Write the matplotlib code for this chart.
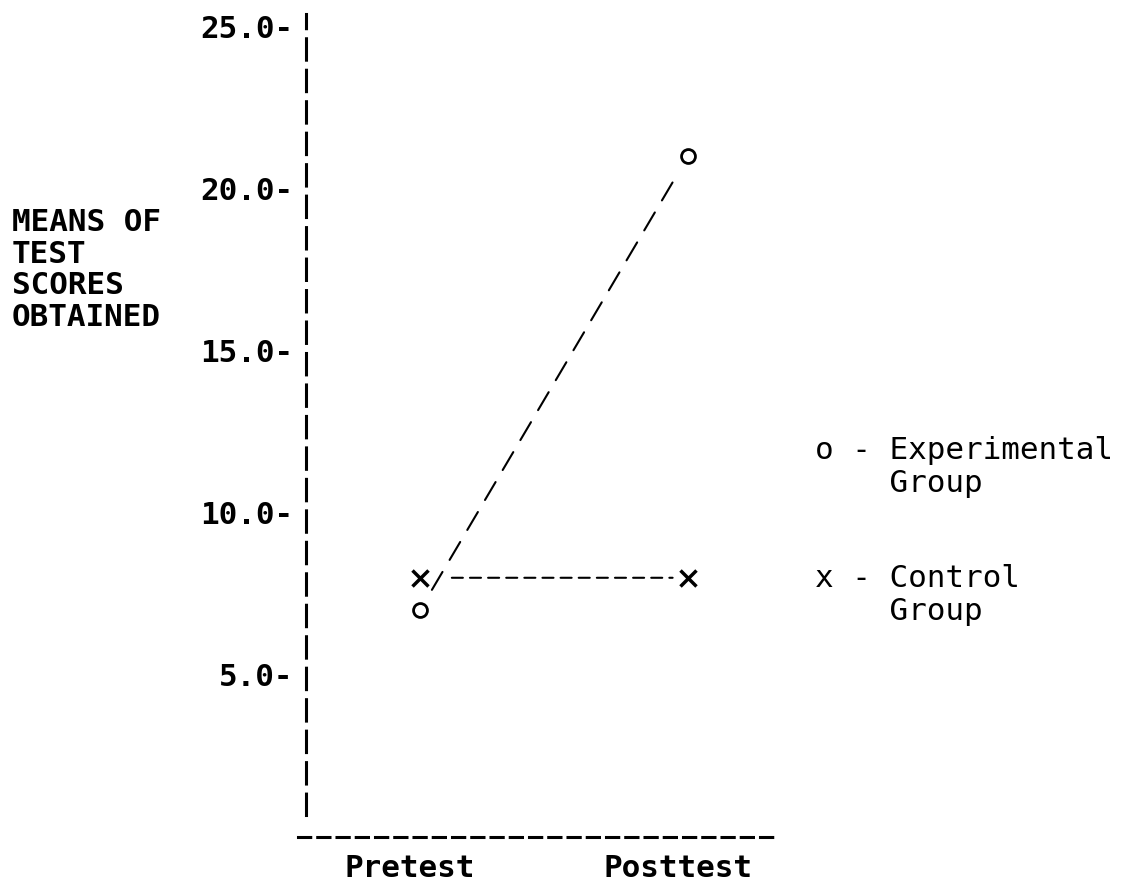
import matplotlib
matplotlib.use("Agg")
import matplotlib.pyplot as plt
from matplotlib.transforms import ScaledTranslation

# ---- data ----
phases = ["Pretest", "Posttest"]
experimental = [7.0, 21.0]
control = [8.0, 8.0]
y_ticks = [5.0, 10.0, 15.0, 20.0, 25.0]
y_tick_labels = [f"{v:.1f}-" for v in y_ticks]
y_label = "MEANS OF\nTEST\nSCORES\nOBTAINED"
legend_exp = "o - Experimental\n    Group"
legend_ctl = "x - Control\n    Group"

FONT = ["DejaVu Sans Mono"]
FS = 22.3
W, H = 1132, 881

fig = plt.figure(figsize=(W / 100, H / 100), dpi=100)
ax = fig.add_axes([280 / W, 31 / H, 510 / W, 840 / H])
ax.set_xlim(-0.522, 1.381)
ax.set_ylim(-0.40, 25.52)
xpos = list(range(len(phases)))

# connecting dashed lines (shrunk away from the markers, typewriter style)
ax.annotate("", xy=(xpos[1], experimental[1]), xytext=(xpos[0], experimental[0]),
            arrowprops=dict(arrowstyle="-", lw=1.5, linestyle=(0, (10, 6.7)),
                            shrinkA=17, shrinkB=17, color="black"))
ax.annotate("", xy=(xpos[1], control[1]), xytext=(xpos[0], control[0]),
            arrowprops=dict(arrowstyle="-", lw=1.5, linestyle=(0, (5.3, 3.4)),
                            shrinkA=23, shrinkB=11, color="black"))

# markers
ax.plot(xpos, experimental, linestyle="none", marker="o", ms=10,
        mfc="white", mec="black", mew=2)
ax.plot(xpos, control, linestyle="none", marker="x", ms=11, mew=2.5,
        color="black")

# axes styling
for s in ("top", "right"):
    ax.spines[s].set_visible(False)
ax.spines["left"].set_position(("data", -0.425))
ax.spines["left"].set_bounds(0.68, 25.4)
ax.spines["left"].set_linewidth(2.2)
ax.spines["left"].set_linestyle((0, (7, 3.3)))
ax.spines["bottom"].set_position(("data", 0))
ax.spines["bottom"].set_bounds(-0.455, 1.317)
ax.spines["bottom"].set_linewidth(2.2)
ax.spines["bottom"].set_linestyle((0, (4, 2.3)))

ax.set_yticks(y_ticks, labels=y_tick_labels)
ax.set_xticks(xpos, labels=phases)
ax.tick_params(axis="y", length=0, pad=9.4)
ax.tick_params(axis="x", length=0, pad=12)
for lab in ax.get_yticklabels() + ax.get_xticklabels():
    lab.set_fontfamily(FONT)
    lab.set_fontsize(FS)
    lab.set_fontweight("bold")
for lab in ax.get_xticklabels():
    lab.set_transform(lab.get_transform() + ScaledTranslation(-0.10, 0, fig.dpi_scale_trans))

fig.text(12 / W, 1 - 270 / H, y_label, ha="left", va="center", fontsize=FS,
         family=FONT, fontweight="bold", linespacing=1.12)
fig.text(815 / W, 1 - 467 / H, legend_exp, ha="left", va="center", fontsize=FS,
         family=FONT, linespacing=1.14)
fig.text(815 / W, 1 - 595 / H, legend_ctl, ha="left", va="center", fontsize=FS,
         family=FONT, linespacing=1.14)

fig.savefig("out.png", dpi=100)
